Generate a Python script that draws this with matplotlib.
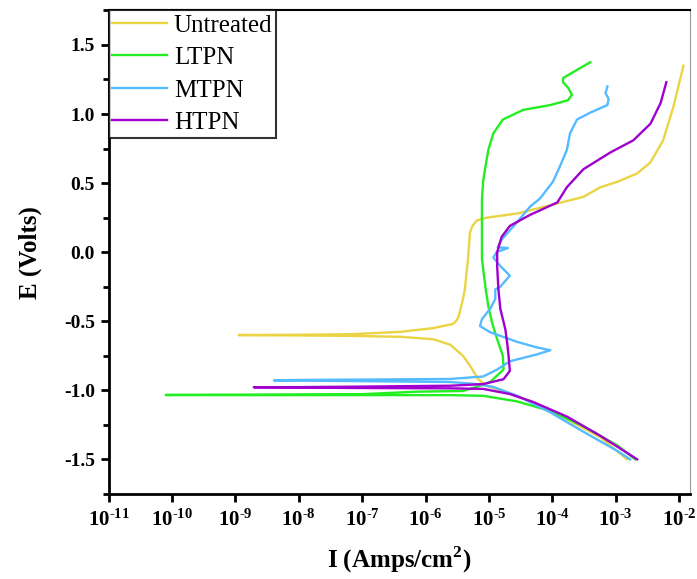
import numpy as np
import matplotlib
matplotlib.use('Agg')
import matplotlib.pyplot as plt
from matplotlib.ticker import MultipleLocator

plt.rcParams['font.family'] = ['Liberation Serif', 'DejaVu Serif']
plt.rcParams['mathtext.fontset'] = 'custom'
plt.rcParams['mathtext.rm'] = 'Liberation Serif:bold'
plt.rcParams['mathtext.bf'] = 'Liberation Serif:bold'
plt.rcParams['axes.unicode_minus'] = False

# log10 of current density (A/cm2) and potential (V)
# each curve runs from the cathodic end (-1.5 V) through Ecorr and up the anodic branch
untreated_logi = [-2.82, -3.24, -3.77, -4.30, -4.82, -5.03, -5.17, -5.30, -5.41, -5.61, -5.88, -6.40, -7.19, -8.0,
                  -8.95,
                  -8.0, -7.19, -6.40, -5.88, -5.57, -5.52, -5.48, -5.41, -5.38, -5.33, -5.30, -5.26, -5.19, -5.03,
                  -4.55, -4.03, -3.51, -3.24, -2.97, -2.66, -2.45, -2.25, -2.09, -1.93]
untreated_e = [-1.50, -1.34, -1.21, -1.085, -1.00, -0.97, -0.92, -0.82, -0.75, -0.67, -0.63, -0.613, -0.606, -0.603,
               -0.60,
               -0.598, -0.594, -0.577, -0.55, -0.52, -0.50, -0.47, -0.34, -0.27, -0.05, 0.14, 0.19, 0.23, 0.25,
               0.28, 0.34, 0.40, 0.47, 0.51, 0.57, 0.65, 0.81, 1.05, 1.35]

ltpn_logi = [-2.69, -2.97, -3.51, -4.03, -4.56, -5.09, -5.61, -7.0, -9.0,
             -10.10,
             -9.0, -7.0, -6.13, -5.41, -5.19, -4.98, -4.77, -4.78, -4.87, -4.95, -5.01, -5.05, -5.11, -5.11,
             -5.09, -5.01, -4.93, -4.78, -4.46, -4.03, -3.75, -3.69, -3.75, -3.83, -3.83, -3.72, -3.40]
ltpn_e = [-1.50, -1.40, -1.26, -1.15, -1.08, -1.04, -1.035, -1.035, -1.035,
          -1.034,
          -1.032, -1.028, -1.01, -1.005, -0.975, -0.94, -0.85, -0.75, -0.63, -0.51, -0.39, -0.27, -0.05, 0.38,
          0.52, 0.74, 0.86, 0.96, 1.03, 1.065, 1.10, 1.14, 1.19, 1.23, 1.26, 1.29, 1.375]

mtpn_logi = [-2.77, -2.97, -3.51, -4.03, -4.55, -4.93, -5.19, -5.61, -7.19, -8.0,
             -8.39,
             -8.0, -7.19, -5.61, -5.09, -4.87, -4.67, -4.24, -4.03, -4.24, -4.55, -4.98, -5.14, -5.11, -4.98,
             -4.90, -4.90, -4.82, -4.67, -4.82, -4.93, -4.88, -4.70, -4.86, -4.80, -4.55, -4.35, -4.19, -3.99,
             -3.88, -3.77, -3.72, -3.61, -3.40, -3.13, -3.11, -3.16, -3.13]
mtpn_e = [-1.50, -1.44, -1.30, -1.16, -1.04, -0.976, -0.955, -0.94, -0.933, -0.93,
          -0.928,
          -0.925, -0.923, -0.918, -0.90, -0.85, -0.79, -0.74, -0.71, -0.69, -0.65, -0.58, -0.535, -0.485, -0.41,
          -0.34, -0.27, -0.25, -0.17, -0.10, -0.04, 0.00, 0.03, 0.035, 0.09, 0.22, 0.33, 0.39, 0.51,
          0.62, 0.74, 0.86, 0.96, 1.01, 1.065, 1.11, 1.15, 1.20]

htpn_logi = [-2.66, -3.24, -3.77, -4.30, -4.67, -5.09, -5.61, -7.19, -8.0,
             -8.71,
             -8.0, -7.19, -5.61, -5.09, -4.77, -4.67, -4.69, -4.71, -4.74, -4.82, -4.85, -4.87, -4.87, -4.80,
             -4.67, -4.35, -3.92, -3.77, -3.51, -3.09, -2.72, -2.45, -2.29, -2.20]
htpn_e = [-1.50, -1.33, -1.19, -1.085, -1.027, -0.99, -0.986, -0.983, -0.98,
          -0.978,
          -0.977, -0.974, -0.967, -0.955, -0.92, -0.86, -0.75, -0.665, -0.56, -0.41, -0.27, -0.10, 0.00, 0.11,
          0.19, 0.27, 0.36, 0.47, 0.60, 0.72, 0.81, 0.93, 1.08, 1.23]

labels = ['Untreated', 'LTPN', 'MTPN', 'HTPN']
colors = ['#EBD443', '#22EE22', '#55BBFF', '#A000D0']
x_exponents = list(range(-11, -1))

fig = plt.figure(figsize=(6.97, 5.79), dpi=100)
ax = fig.add_axes([0.156, 0.147, 0.834, 0.835])

series = [(untreated_logi, untreated_e), (ltpn_logi, ltpn_e), (mtpn_logi, mtpn_e), (htpn_logi, htpn_e)]
for (logi, e), lab, c in zip(series, labels, colors):
    ax.plot(10.0 ** np.array(logi), e, color=c, lw=1.7, label=lab)

ax.set_xscale('log')
ax.set_xlim(1e-11, 10 ** -1.826)
ax.set_ylim(-1.75, 1.75)
ax.set_xticks([10.0 ** k for k in x_exponents])
ax.set_xticklabels([r'$\mathbf{10^{\text{-}%d}}$' % abs(k) for k in x_exponents])
ax.xaxis.set_minor_locator(plt.NullLocator())
yt = np.arange(-1.5, 1.51, 0.5)
ax.set_yticks(yt)
ax.set_yticklabels(['%.1f' % v for v in yt])
ax.yaxis.set_minor_locator(MultipleLocator(0.25))

ax.tick_params(axis='x', which='major', direction='out', length=6, width=2, labelsize=15, pad=5)
ax.tick_params(axis='y', which='major', direction='out', length=6, width=2, labelsize=14, pad=4)
ax.tick_params(axis='both', which='minor', direction='out', length=4, width=2)
for t in ax.get_yticklabels():
    t.set_fontweight('bold')

ax.spines['left'].set_linewidth(2)
ax.spines['bottom'].set_linewidth(2)
ax.spines['top'].set_linewidth(1.5)
ax.spines['right'].set_linewidth(0.8)
ax.spines['right'].set_color('#999999')

ax.set_xlabel(r'I (Amps/cm$^\mathbf{2}$)', fontsize=18, fontweight='bold', labelpad=10)
ax.set_ylabel('E (Volts)', fontsize=18, fontweight='bold', labelpad=16)

leg = ax.legend(loc='upper left', fontsize=18, frameon=True, fancybox=False, borderaxespad=0,
                handlelength=2.2, handletextpad=0.25, labelspacing=0.4, borderpad=0.15)
leg.get_frame().set_edgecolor('black')
leg.get_frame().set_linewidth(1.5)

fig.savefig('out.png', dpi=100)
